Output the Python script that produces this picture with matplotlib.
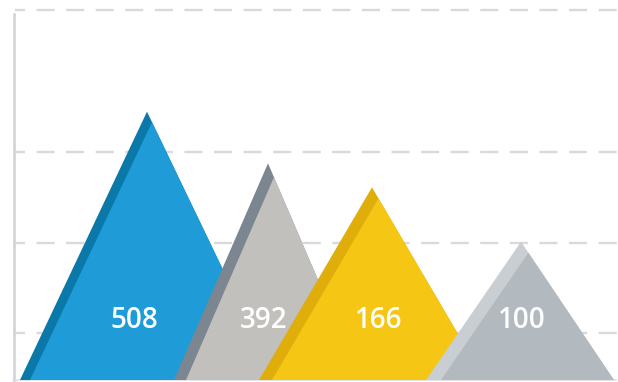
import numpy as np
import matplotlib
matplotlib.use("Agg")
import matplotlib.pyplot as plt
from matplotlib.patches import Polygon

plt.rcParams['lines.scale_dashes'] = False

# values shown on the peaks
labels = ["508", "392", "166", "100"]
values = [508, 392, 166, 100]

# colours: front face / shaded left face
face_colors = ["#1f9bd7", "#c2c0bc", "#f6c614", "#b2b9bf"]
side_colors = ["#0a78a8", "#7b8691", "#dfae0b", "#c9ced3"]

# peak footprint along the x axis (pixel-like units)
base_left = [20, 174, 259, 426]
peak_x = [147, 268, 372, 521]
base_right = [276, 361, 485, 614]
side_width = [10, 12, 13, 15]
label_x = [134, 264, 379, 522]

# uneven value axis: value -> height
scale_vals = np.array([0, 100, 166, 392, 508, 700])
scale_px = np.array([0, 138.3, 192.7, 216.7, 268.3, 370.5])


def forward(v):
    return np.interp(v, scale_vals, scale_px)


def inverse(h):
    return np.interp(h, scale_px, scale_vals)


fig = plt.figure(figsize=(6.18, 3.82), dpi=100)
ax = fig.add_axes([0, 2 / 382, 1, 370.5 / 382])
ax.set_yscale('function', functions=(forward, inverse))
ax.set_xlim(0, 618)
ax.set_ylim(0, 700)
ax.axis('off')

# dashed guide lines
for h in [47, 137.5, 228.3, 370.5]:
    ax.plot([15, 618], [inverse(h)] * 2, color="#d9d9d9", lw=1.7,
            linestyle=(5.8, (13, 8.3)), clip_on=False, zorder=0)

# left axis and baseline
ax.plot([13.5, 13.5], [0, inverse(366)], color="#d0d4d9", lw=1.9,
        clip_on=False, zorder=0)
ax.plot([13, 616], [0, 0], color="#dde1e6", lw=1.2, clip_on=False, zorder=0)

for i, v in enumerate(values):
    z = 2 + i * 2
    outer = Polygon([(base_left[i], 0), (peak_x[i], v), (base_right[i], 0)],
                    closed=True, facecolor=side_colors[i], edgecolor="none",
                    zorder=z)
    ax.add_patch(outer)
    s = side_width[i]
    inner = Polygon([(base_left[i] + s, 0), (peak_x[i] + s, v),
                     (base_right[i] + s, 0)],
                    closed=True, facecolor=face_colors[i], edgecolor="none",
                    zorder=z + 1)
    ax.add_patch(inner)
    inner.set_clip_path(outer)
    ax.text(label_x[i], 60 / 370.5, labels[i], transform=ax.get_xaxis_transform(),
            ha="center", va="center", color="white", fontsize=20,
            family="Open Sans", weight="semibold", zorder=20)

fig.savefig("out.png", dpi=100)
